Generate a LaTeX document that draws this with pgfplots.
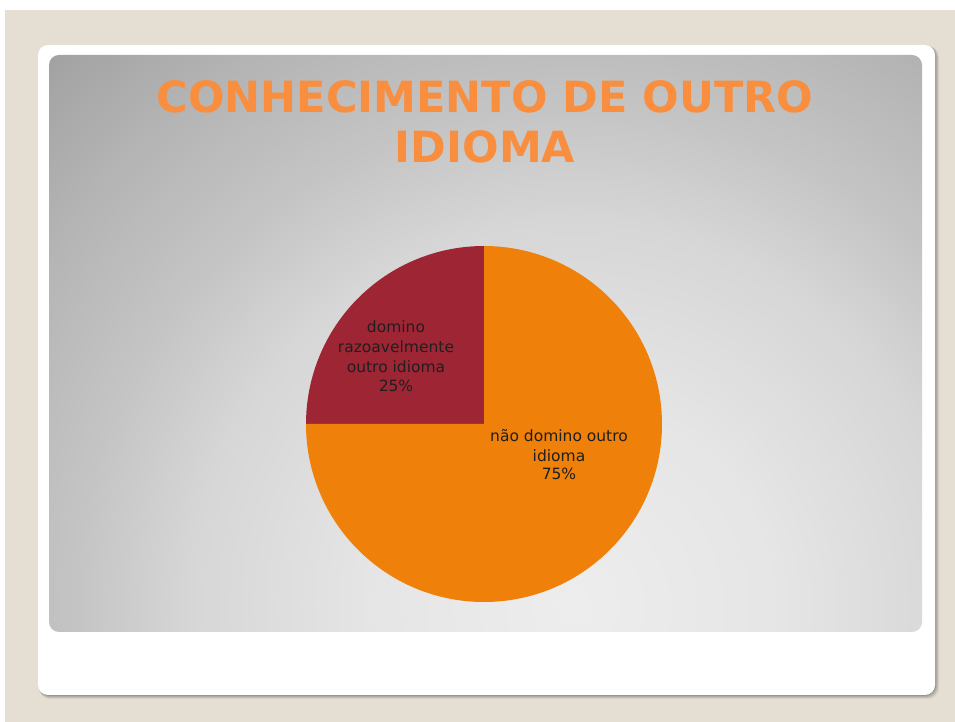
\documentclass[border=0pt]{standalone}
\usepackage{pgfplots}
\pgfplotsset{compat=1.18}
\usepackage{pgfplotstable}
\usepackage{fontspec}
\setmainfont{DejaVu Sans}
\definecolor{beige}{RGB}{228,222,211}
\definecolor{titleorange}{RGB}{248,142,62}
\definecolor{sliceorange}{RGB}{239,128,10}
\definecolor{slicered}{RGB}{158,38,52}
\pgfdeclareradialshading{panelshade}{\pgfpoint{0bp}{0bp}}{%
 rgb(0bp)=(0.93,0.93,0.93);
 rgb(12.5bp)=(0.90,0.90,0.90);
 rgb(24bp)=(0.84,0.84,0.84);
 rgb(31bp)=(0.77,0.77,0.77);
 rgb(39bp)=(0.71,0.71,0.71);
 rgb(44bp)=(0.665,0.665,0.665);
 rgb(50bp)=(0.61,0.61,0.61)}
\pgfplotstableread{
label value
razoavel 25
naodomino 75
}\piedata
\pgfplotstablegetelem{0}{value}\of\piedata
\pgfmathsetmacro{\redval}{\pgfplotsretval}
\pgfplotstablegetelem{1}{value}\of\piedata
\pgfmathsetmacro{\orangeval}{\pgfplotsretval}
\pgfmathsetmacro{\redstart}{90}
\pgfmathsetmacro{\redend}{90+3.6*\redval}
\pgfmathsetmacro{\orangeend}{\redend+3.6*\orangeval}
\begin{document}
\begin{tikzpicture}[x=1pt,y=1pt]
\path[use as bounding box] (0,0) rectangle (955,722);
\fill[white] (0,0) rectangle (955,722);
\fill[beige] (5,0) rectangle (955,712);
% card shadow
\foreach \o/\op in {4/0.06,3/0.08,2/0.10,1/0.12}{
  \fill[black,opacity=\op,rounded corners=11] (38+\o*0.3,27-\o) rectangle (935+\o,677-\o*0.3);
}
\fill[white,rounded corners=10] (38,27) rectangle (935,677);
% panel
\begin{scope}
\clip[rounded corners=10] (49,90) rectangle (922,667);
\pgflowlevelobj{\pgftransformshift{\pgfpoint{575pt}{116pt}}\pgftransformscale{16}}{\pgfuseshading{panelshade}}
\end{scope}
% title
\node[anchor=base,font=\bfseries\fontsize{43}{48}\selectfont,text=titleorange] at (485,609) {CONHECIMENTO DE OUTRO};
\node[anchor=base,font=\bfseries\fontsize{43}{48}\selectfont,text=titleorange] at (485,559) {IDIOMA};
% pie
\coordinate (pc) at (484,298);
\begin{axis}[at={(pc)},anchor=center,width=356pt,height=356pt,scale only axis,
  xmin=-1,xmax=1,ymin=-1,ymax=1,hide axis,clip=false]
\fill[slicered] (axis cs:0,0) -- ++(\redstart:178pt) arc[start angle=\redstart,end angle=\redend,radius=178pt] -- cycle;
\fill[sliceorange] (axis cs:0,0) -- ++(\redend:178pt) arc[start angle=\redend,end angle=\orangeend,radius=178pt] -- cycle;
\end{axis}
% labels
\begin{scope}[every node/.style={anchor=base,font=\fontsize{15.5}{19}\selectfont,text=black!88,inner sep=0pt}]
\node at (396,389) {domino};
\node at (396,369.3) {razoavelmente};
\node at (396,349.7) {outro idioma};
\node at (396,330) {25\%};
\node at (559,280) {não domino outro};
\node at (559,260.5) {idioma};
\node at (559,242) {75\%};
\end{scope}
\end{tikzpicture}
\end{document}
